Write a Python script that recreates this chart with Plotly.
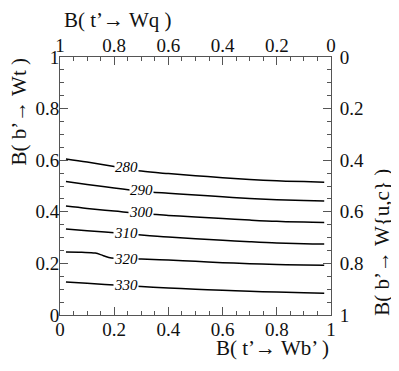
import plotly.graph_objects as go

# contour data: x = B(t'->Wb'), y = B(b'->Wt)
x_common = [0.022, 0.1, 0.2, 0.3, 0.4, 0.5, 0.6, 0.7, 0.8, 0.9, 0.975]
y_280 = [0.605, 0.593, 0.576, 0.558, 0.548, 0.540, 0.532, 0.525, 0.520, 0.517, 0.515]
y_290 = [0.517, 0.506, 0.492, 0.480, 0.472, 0.465, 0.458, 0.452, 0.447, 0.444, 0.442]
y_300 = [0.422, 0.413, 0.403, 0.393, 0.386, 0.380, 0.374, 0.368, 0.363, 0.360, 0.359]
y_310 = [0.333, 0.327, 0.319, 0.310, 0.302, 0.296, 0.290, 0.284, 0.279, 0.276, 0.275]
x_320 = [0.022, 0.08, 0.13, 0.16, 0.19, 0.3, 0.4, 0.5, 0.6, 0.7, 0.8, 0.9, 0.975]
y_320 = [0.244, 0.243, 0.240, 0.230, 0.221, 0.217, 0.213, 0.208, 0.203, 0.199, 0.196, 0.194, 0.193]
y_330 = [0.128, 0.123, 0.116, 0.110, 0.105, 0.100, 0.096, 0.092, 0.089, 0.086, 0.084]

levels = ["280", "290", "300", "310", "320", "330"]
label_x = [0.245, 0.299, 0.299, 0.245, 0.245, 0.245]
label_y = [0.574, 0.485, 0.400, 0.317, 0.218, 0.116]

tick_vals = [0, 0.2, 0.4, 0.6, 0.8, 1]
tick_text = ["0", "0.2", "0.4", "0.6", "0.8", "1"]

FONT = "Liberation Serif, Times New Roman, serif"
AXC = "#555555"

series = [
    (x_common, y_280), (x_common, y_290), (x_common, y_300),
    (x_common, y_310), (x_320, y_320), (x_common, y_330),
]

fig = go.Figure()
for xs, ys in series:
    fig.add_trace(go.Scatter(x=xs, y=ys, mode="lines", line=dict(color="black", width=1.5, shape="spline"),
                             showlegend=False, hoverinfo="skip"))
fig.add_trace(go.Scatter(x=[], y=[], xaxis="x2", yaxis="y2", showlegend=False))

for lv, lx, ly in zip(levels, label_x, label_y):
    fig.add_annotation(x=lx, y=ly, xref="x", yref="y", text="<i>%s</i>" % lv, showarrow=False,
                       font=dict(family=FONT, size=15, color="black"), bgcolor="white",
                       borderpad=0, xanchor="center", yanchor="middle")

def ax(**kw):
    d = dict(range=[0, 1], showgrid=False, zeroline=False, showline=True, linecolor=AXC, linewidth=1,
             ticks="inside", ticklen=8, tickcolor=AXC, tickvals=tick_vals, ticktext=tick_text,
             automargin=False,
             tickfont=dict(family=FONT, size=19, color="#111111"),
             minor=dict(ticks="inside", ticklen=4, dtick=0.05, tick0=0, tickcolor=AXC))
    d.update(kw)
    return d

# page body has an 8px margin: figure is shrunk and margins shifted to compensate
fig.update_layout(
    width=391, height=363,
    margin=dict(l=52, r=68, t=49, b=56, autoexpand=False),
    paper_bgcolor="white", plot_bgcolor="white",
    xaxis=ax(side="bottom", ticklabelstandoff=-3),
    yaxis=ax(side="left", ticklabelstandoff=-4),
    xaxis2=ax(side="top", overlaying="x", range=[1, 0], ticklabelstandoff=-4),
    yaxis2=ax(side="right", overlaying="y", range=[1, 0], ticklabelstandoff=4),
)

tf = dict(family=FONT, size=21, color="#111111")
fig.add_annotation(text="B( t’→ Wb’ )", xref="paper", yref="paper", x=1.0, y=-0.128,
                   xanchor="right", yanchor="middle", showarrow=False, font=tf)
fig.add_annotation(text="B( t’→ Wq )", xref="paper", yref="paper", x=0.007, y=1.143,
                   xanchor="left", yanchor="middle", showarrow=False, font=tf)
fig.add_annotation(text="B( b’→ Wt )", xref="paper", yref="paper", x=-0.153, y=0.787,
                   xanchor="center", yanchor="middle", textangle=-90, showarrow=False, font=tf)
fig.add_annotation(text="B( b’→ W{u,c} )", xref="paper", yref="paper", x=1.187, y=0.283,
                   xanchor="center", yanchor="middle", textangle=-90, showarrow=False, font=tf)

fig.write_html("out.html")
